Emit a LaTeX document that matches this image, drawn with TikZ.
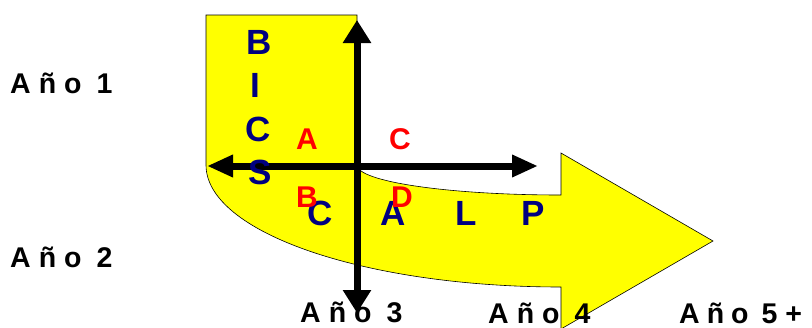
\documentclass[tikz,border=0pt]{standalone}
\usepackage{fontspec}
\setmainfont{Liberation Sans}
\usetikzlibrary{arrows.meta}
\definecolor{navyblue}{RGB}{0,0,128}
\definecolor{bandyellow}{RGB}{255,255,0}
% spaced-out year captions
\newcommand\anoyear[1]{A\kern8pt ñ\kern8pt o\kern15pt #1}
\begin{document}
\begin{tikzpicture}[x=1pt,y=-1pt,
  band/.style={fill=bandyellow, draw=black, line width=0.6pt, line join=miter},
  axisline/.style={line width=7pt},
  vaxis/.style={axisline, {Triangle[length=23pt,width=27pt]}-{Triangle[length=23pt,width=27pt]}},
  haxis/.style={axisline, {Triangle[length=26pt,width=21pt]}-{Triangle[length=26pt,width=21pt]}},
  bigletter/.style={text=navyblue, font=\fontsize{35}{35}\selectfont\bfseries, inner sep=0pt},
  quadletter/.style={text=red, font=\fontsize{30}{30}\selectfont\bfseries, inner sep=0pt},
  yearlabel/.style={font=\fontsize{28.5}{28.5}\selectfont\bfseries, inner sep=0pt, anchor=base west}]
\useasboundingbox (0,0) rectangle (812,327);

% curved yellow band ending in an arrow head
\draw[band] (206,15) -- (357,15) -- (357,165)
  .. controls (357,181.6) and (448.3,195) .. (561,195)
  -- (561,153) -- (713,241) -- (561,329) -- (561,287)
  .. controls (365,287) and (206,232.4) .. (206,165) -- cycle;

% crossing axes
\coordinate (vtop) at (357,20);
\coordinate (vbot) at (357,313);
\coordinate (hleft) at (207,166);
\coordinate (hright) at (538,166);
\draw[vaxis] (vbot) -- (vtop);
\draw[haxis] (hleft) -- (hright);

% BICS down the left, CALP along the band
\node[bigletter] (bicsB) at (259,42) {B};
\node[bigletter] (bicsI) at (255,85) {I};
\node[bigletter] (bicsC) at (258,129) {C};
\node[bigletter] (bicsS) at (260,172) {S};
\node[bigletter] (calpC) at (320,213) {C};
\node[bigletter] (calpA) at (393,213) {A};
\node[bigletter] (calpL) at (466,213) {L};
\node[bigletter] (calpP) at (533,213) {P};

% quadrant letters
\node[quadletter] (qA) at (307,139) {A};
\node[quadletter] (qC) at (400,139) {C};
\node[quadletter] (qB) at (307,197) {B};
\node[quadletter] (qD) at (402,197) {D};

% year captions
\node[yearlabel] (y1) at (10,93) {\anoyear{1}};
\node[yearlabel] (y2) at (10,267) {\anoyear{2}};
\node[yearlabel] (y3) at (300,322) {\anoyear{3}};
\node[yearlabel] (y4) at (488,323) {\anoyear{4}};
\node[yearlabel] (y5) at (679,323) {A\kern7pt ñ\kern7pt o\kern13pt 5\kern8pt +};
\end{tikzpicture}
\end{document}
